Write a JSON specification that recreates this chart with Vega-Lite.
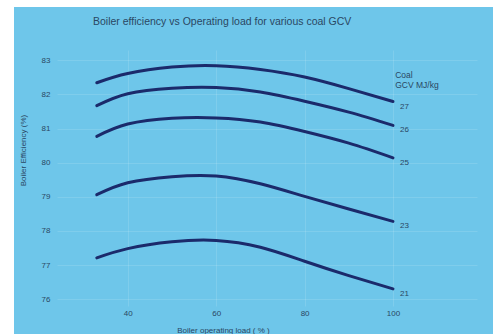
{
  "$schema": "https://vega.github.io/schema/vega-lite/v6.json",
  "width": 420,
  "height": 256,
  "autosize": {"type": "none"},
  "padding": {"left": 57, "top": 50, "right": 16, "bottom": 28},
  "background": "white",
  "config": {
    "view": {"fill": "#6ec6ea", "stroke": "#6ec6ea", "strokeWidth": 86},
    "font": "Liberation Sans",
    "axis": {
      "domain": false,
      "ticks": false,
      "grid": true,
      "gridColor": "#ffffff",
      "gridOpacity": 0.12,
      "gridWidth": 1,
      "labelFont": "Liberation Sans",
      "labelFontSize": 8,
      "labelColor": "#2a4763",
      "labelOverlap": false,
      "titleFont": "Liberation Sans",
      "titleFontSize": 8,
      "titleFontWeight": "normal",
      "titleColor": "#2a4763"
    }
  },
  "title": {
    "text": "Boiler efficiency vs Operating load for various coal GCV",
    "frame": "group",
    "anchor": "start",
    "dx": 36,
    "offset": 23,
    "fontSize": 10.5,
    "fontWeight": "normal",
    "color": "#2a4763",
    "font": "Liberation Sans"
  },
  "datasets": {
    "curves": [
      {"load": 33, "eff": 82.34, "gcv": "27"}, {"load": 40, "eff": 82.61, "gcv": "27"}, {"load": 50, "eff": 82.80, "gcv": "27"}, {"load": 60, "eff": 82.84, "gcv": "27"}, {"load": 70, "eff": 82.73, "gcv": "27"}, {"load": 80, "eff": 82.51, "gcv": "27"}, {"load": 90, "eff": 82.17, "gcv": "27"}, {"load": 100, "eff": 81.79, "gcv": "27"},
      {"load": 33, "eff": 81.67, "gcv": "26"}, {"load": 40, "eff": 82.02, "gcv": "26"}, {"load": 50, "eff": 82.18, "gcv": "26"}, {"load": 60, "eff": 82.20, "gcv": "26"}, {"load": 70, "eff": 82.07, "gcv": "26"}, {"load": 80, "eff": 81.80, "gcv": "26"}, {"load": 90, "eff": 81.48, "gcv": "26"}, {"load": 100, "eff": 81.09, "gcv": "26"},
      {"load": 33, "eff": 80.77, "gcv": "25"}, {"load": 40, "eff": 81.13, "gcv": "25"}, {"load": 50, "eff": 81.30, "gcv": "25"}, {"load": 60, "eff": 81.31, "gcv": "25"}, {"load": 70, "eff": 81.19, "gcv": "25"}, {"load": 80, "eff": 80.91, "gcv": "25"}, {"load": 90, "eff": 80.57, "gcv": "25"}, {"load": 100, "eff": 80.14, "gcv": "25"},
      {"load": 33, "eff": 79.06, "gcv": "23"}, {"load": 40, "eff": 79.41, "gcv": "23"}, {"load": 50, "eff": 79.59, "gcv": "23"}, {"load": 60, "eff": 79.61, "gcv": "23"}, {"load": 70, "eff": 79.38, "gcv": "23"}, {"load": 80, "eff": 79.01, "gcv": "23"}, {"load": 90, "eff": 78.64, "gcv": "23"}, {"load": 100, "eff": 78.28, "gcv": "23"},
      {"load": 33, "eff": 77.21, "gcv": "21"}, {"load": 40, "eff": 77.48, "gcv": "21"}, {"load": 50, "eff": 77.68, "gcv": "21"}, {"load": 60, "eff": 77.72, "gcv": "21"}, {"load": 70, "eff": 77.52, "gcv": "21"}, {"load": 80, "eff": 77.11, "gcv": "21"}, {"load": 90, "eff": 76.69, "gcv": "21"}, {"load": 100, "eff": 76.30, "gcv": "21"}
    ],
    "header": [
      {"load": 100.5, "eff": 82.57, "text": "Coal"},
      {"load": 100.5, "eff": 82.27, "text": "GCV MJ/kg"}
    ]
  },
  "encoding": {
    "x": {
      "field": "load", "type": "quantitative",
      "scale": {"domain": [24, 119], "nice": false, "zero": false},
      "axis": {"values": [40, 60, 80, 100], "labelPadding": 3, "title": "Boiler operating load ( % )", "titleX": 166, "titleY": 24, "titleBaseline": "middle", "titleAlign": "center"}
    },
    "y": {
      "field": "eff", "type": "quantitative",
      "scale": {"domain": [75.8, 83.3], "nice": false, "zero": false},
      "axis": {"values": [76, 77, 78, 79, 80, 81, 82, 83], "labelPadding": 7, "title": "Boiler Efficiency (%)", "titleX": -34, "titleY": 100, "titleAngle": -90, "titleAlign": "center", "titleBaseline": "middle"}
    }
  },
  "layer": [
    {
      "data": {"name": "curves"},
      "mark": {"type": "line", "interpolate": "natural", "strokeWidth": 3, "color": "#1b2a6b", "strokeCap": "round"},
      "encoding": {
        "detail": {"field": "gcv"}
      }
    },
    {
      "data": {"name": "curves"},
      "transform": [{"filter": "datum.load == 100"}],
      "mark": {"type": "text", "align": "left", "baseline": "middle", "dx": 7, "dy": 5, "fontSize": 8, "color": "#2a4763"},
      "encoding": {
        "text": {"field": "gcv"}
      }
    },
    {
      "data": {"name": "header"},
      "mark": {"type": "text", "align": "left", "baseline": "middle", "fontSize": 8.5, "color": "#2a4763"},
      "encoding": {
        "text": {"field": "text"}
      }
    }
  ]
}
